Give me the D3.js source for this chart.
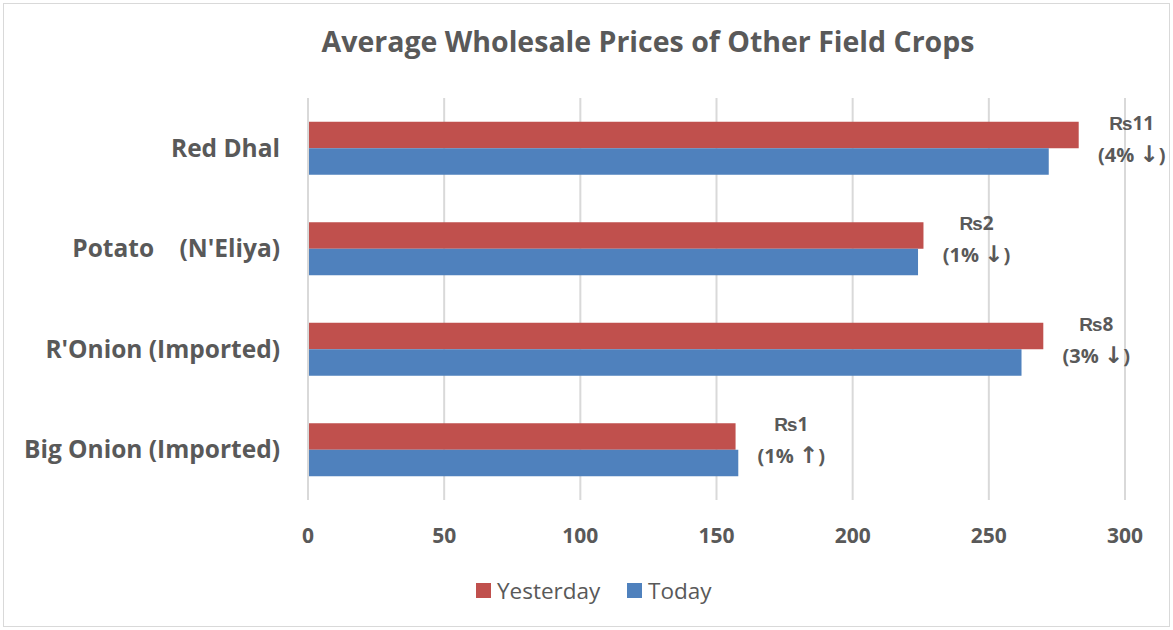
<!DOCTYPE html>
<html>
<head>
<meta charset="utf-8">
<script src="https://cdn.jsdelivr.net/npm/d3@7"></script>
<style>
  body { margin: 0; background: #fff; }
  text { font-family: "Open Sans", "Liberation Sans", sans-serif; fill: #595959; }
  .arrow { font-family: "DejaVu Sans", sans-serif; }
</style>
</head>
<body>
<svg width="1173" height="630"></svg>
<script>
// data
const crops = ["Red Dhal", "Potato    (N'Eliya)", "R'Onion (Imported)", "Big Onion (Imported)"]
const yesterday = [283, 226, 270, 157]
const today = [272, 224, 262, 158]
const changeLabels = ["\u20A811", "\u20A82", "\u20A88", "\u20A81"]
const pctLabels = ["4%", "1%", "3%", "1%"]
const arrows = ["\u2193", "\u2193", "\u2193", "\u2191"]
const xTicks = [0, 50, 100, 150, 200, 250, 300]
const seriesNames = ["Yesterday", "Today"]
const colors = { Yesterday: "#C0504D", Today: "#4F81BD" }

const dims = { width: 1173, height: 630, left: 308, right: 1125, top: 98, bottom: 500 }

const svg = d3.select("svg")

// outer border
svg.append("rect")
    .attr("x", 3.5).attr("y", 3.5)
    .attr("width", dims.width - 7).attr("height", dims.height - 7)
    .attr("fill", "none").attr("stroke", "#d9d9d9")

const x = d3.scaleLinear().domain([0, 300]).range([dims.left, dims.right])
const y = d3.scaleBand().domain(crops).range([dims.top, dims.bottom])
const inner = d3.scaleBand().domain(seriesNames).range([0, 53]).padding(0)

// title
svg.append("text")
    .attr("x", 648).attr("y", 52)
    .attr("text-anchor", "middle")
    .attr("font-size", 28.5).attr("font-weight", "bold")
    .text("Average Wholesale Prices of Other Field Crops")

// grid lines
svg.append("g").selectAll("line").data(xTicks).enter().append("line")
    .attr("x1", d => x(d)).attr("x2", d => x(d))
    .attr("y1", dims.top).attr("y2", dims.bottom)
    .attr("stroke", "#d9d9d9").attr("stroke-width", 2)

// tick labels
svg.append("g").selectAll("text").data(xTicks).enter().append("text")
    .attr("x", d => x(d)).attr("y", 543)
    .attr("text-anchor", "middle")
    .attr("font-size", 21).attr("font-weight", "bold")
    .text(d => d)

// category labels
svg.append("g").selectAll("text").data(crops).enter().append("text")
    .attr("x", 280)
    .attr("y", d => y(d) + y.bandwidth() / 2)
    .attr("dy", "0.35em")
    .attr("text-anchor", "end")
    .attr("font-size", 24.5).attr("font-weight", "bold")
    .attr("xml:space", "preserve")
    .style("white-space", "pre")
    .text(d => d)

// bars
const rows = crops.map((c, i) => ({ crop: c, Yesterday: yesterday[i], Today: today[i], i: i }))
const groups = svg.append("g").selectAll("g").data(rows).enter().append("g")
    .attr("transform", d => `translate(0,${y(d.crop) + (y.bandwidth() - 53) / 2})`)
groups.selectAll("rect").data(d => seriesNames.map(s => ({ s: s, v: d[s] }))).enter().append("rect")
    .attr("x", x(0) + 1)
    .attr("y", d => inner(d.s))
    .attr("width", d => x(d.v) - x(0) - 1)
    .attr("height", inner.bandwidth())
    .attr("fill", d => colors[d.s])

// change annotations
const ann = svg.append("g").selectAll("g").data(rows).enter().append("g")
    .attr("transform", d => `translate(${x(Math.max(d.Yesterday, d.Today)) + 53},${y(d.crop) + (y.bandwidth() - 53) / 2})`)
ann.append("text")
    .attr("y", 8).attr("text-anchor", "middle")
    .attr("font-size", 19).attr("font-weight", "bold")
    .text(d => changeLabels[d.i])
const pct = ann.append("text")
    .attr("y", 40).attr("text-anchor", "middle")
    .attr("font-size", 20).attr("font-weight", "bold")
pct.append("tspan").text(d => "(" + pctLabels[d.i] + " ")
pct.append("tspan").attr("class", "arrow").attr("font-size", 23).text(d => arrows[d.i])
pct.append("tspan").text(")")

// legend
const legend = svg.append("g").attr("transform", "translate(476,583)")
const legendItems = [{ s: "Yesterday", dx: 0 }, { s: "Today", dx: 151 }]
const li = legend.selectAll("g").data(legendItems).enter().append("g")
    .attr("transform", d => `translate(${d.dx},0)`)
li.append("rect").attr("width", 15).attr("height", 15).attr("fill", d => colors[d.s])
li.append("text").attr("x", 21).attr("y", 8).attr("dy", "0.35em")
    .attr("font-size", 22.5).text(d => d.s)
</script>
</body>
</html>
